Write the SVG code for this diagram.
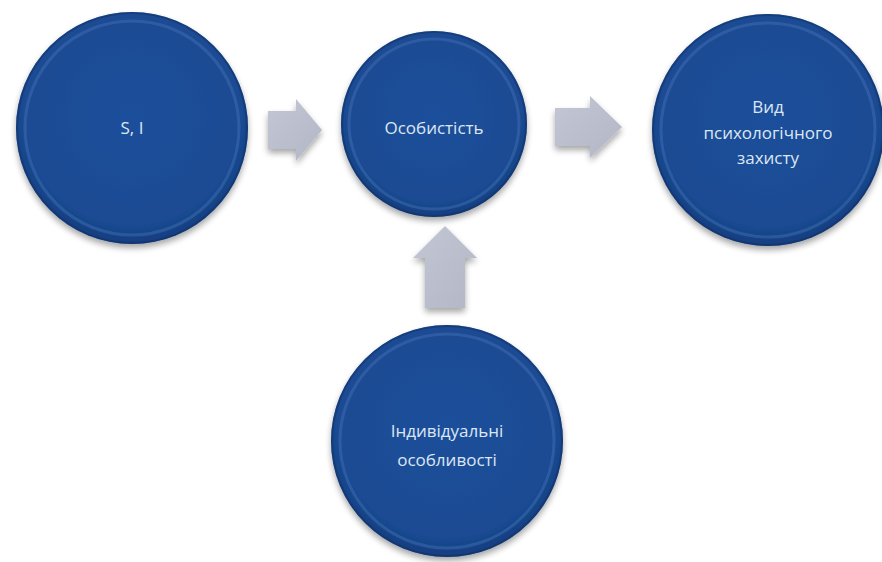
<svg xmlns="http://www.w3.org/2000/svg" width="882" height="562" viewBox="0 0 882 562">
<defs>
<radialGradient id="gBall" cx="50%" cy="45%" r="55%">
<stop offset="0" stop-color="#1c4f9b"/>
<stop offset="0.85" stop-color="#1a4b93"/>
<stop offset="1" stop-color="#153d7d"/>
</radialGradient>
<linearGradient id="gArrow" x1="0" y1="0" x2="1" y2="1">
<stop offset="0" stop-color="#c3c6d3"/>
<stop offset="1" stop-color="#b3b6c5"/>
</linearGradient>
<filter id="sh" x="-20%" y="-20%" width="140%" height="150%">
<feGaussianBlur in="SourceAlpha" stdDeviation="3"/>
<feOffset dx="0" dy="4" result="b"/>
<feComponentTransfer><feFuncA type="linear" slope="0.35"/></feComponentTransfer>
<feMerge><feMergeNode/><feMergeNode in="SourceGraphic"/></feMerge>
</filter>
</defs>
<style>
.ball{fill:url(#gBall);filter:url(#sh)}
.rim{fill:none;stroke:#4f7fc4;stroke-opacity:0.35;stroke-width:3}
.rim2{fill:none;stroke:#0f2f66;stroke-opacity:0.5;stroke-width:2}
.arrow{fill:url(#gArrow);filter:url(#sh)}
.lbl{font-family:"Open Sans","Liberation Sans",sans-serif;font-size:17px;fill:#dde7f4;text-anchor:middle}
</style>
<rect width="882" height="562" fill="#ffffff"/>
<g id="connectors">
<path class="arrow" d="M268,111 H296 V99 L322,130 L296,161 V149 H268 Z"/>
<path class="arrow" d="M555,108 H590 V96 L622,127 L590,158 V146 H555 Z"/>
<path class="arrow" d="M425,308 V258 H413 L445,226 L477,258 H465 V308 Z"/>
</g>
<g id="node-si">
<circle class="ball" cx="132" cy="128" r="116"/>
<circle class="rim2" cx="132" cy="128" r="115"/>
<circle class="rim" cx="132" cy="128" r="107"/>
<text class="lbl" x="132" y="134">S, I</text>
</g>
<g id="node-osobystist">
<circle class="ball" cx="434" cy="124" r="93"/>
<circle class="rim2" cx="434" cy="124" r="92"/>
<circle class="rim" cx="434" cy="124" r="85"/>
<text class="lbl" x="434" y="134">Особистість</text>
</g>
<g id="node-vyd">
<circle class="ball" cx="768" cy="130" r="116"/>
<circle class="rim2" cx="768" cy="130" r="115"/>
<circle class="rim" cx="768" cy="130" r="107"/>
<text class="lbl" x="768" y="113">Вид</text>
<text class="lbl" x="768" y="139">психологічного</text>
<text class="lbl" x="768" y="164">захисту</text>
</g>
<g id="node-indyv">
<circle class="ball" cx="447" cy="441" r="116"/>
<circle class="rim2" cx="447" cy="441" r="115"/>
<circle class="rim" cx="447" cy="441" r="107"/>
<text class="lbl" x="447" y="437">Індивідуальні</text>
<text class="lbl" x="447" y="466">особливості</text>
</g>
</svg>
